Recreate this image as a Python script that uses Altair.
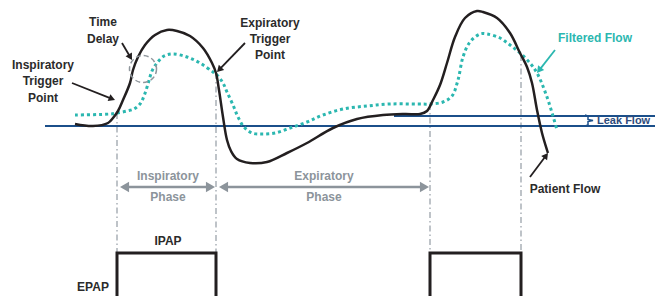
import altair as alt
import numpy as np
import pandas as pd

# ---------------- data (diagram units: x = time, y = flow, screen-oriented) ----------------
patient_t = [75, 93, 108, 113, 118, 123, 130, 133, 138, 145, 155, 167, 177, 190, 203, 212, 216,
             219, 223, 227, 231, 237, 250, 267, 287, 307, 333, 357, 383, 405, 420, 427, 433, 440,
             447, 455, 465, 477, 483, 497, 510, 520, 527, 532, 537, 542, 547, 548]
patient_f = [124, 126, 123, 118, 111, 100, 83, 70, 57, 45, 35, 30, 31, 36, 48, 63, 73,
             90, 117, 140, 151, 159, 163, 162, 153, 143, 128, 119, 115, 114, 114, 111, 100, 85,
             63, 37, 18, 11, 12, 18, 33, 53, 67, 83, 110, 133, 150, 153]

filtered_t = [75, 110, 117, 127, 134, 140, 144, 148, 152, 157, 164, 173, 187, 200, 213, 217, 223,
              227, 233, 238, 244, 252, 262, 275, 290, 307, 323, 343, 367, 390, 417, 430, 443,
              452, 458, 463, 470, 480, 487, 500, 510, 520, 530, 537, 547, 557]
filtered_f = [115, 114, 113, 111, 109, 104, 96, 84, 71, 63, 56, 54, 57, 63, 72, 75, 83,
              92, 105, 117, 127, 133, 134, 133, 128, 122, 115, 109, 106, 104, 104, 104, 102,
              96, 80, 57, 42, 34, 34, 38, 45, 53, 63, 73, 97, 130]

baseline_flow = 126
leak_flow = 116
leak_start = 394
flow_x_start = 45
flow_x_end = 663

trigger_t = [117, 216, 430, 521]
trigger_f = [113, 73, 104, 55]

pressure_t = [117, 117, 216, 216, 430, 430, 521, 521]
pressure_p = [310, 253, 253, 310, 310, 253, 253, 310]
pressure_breath = [1, 1, 1, 1, 2, 2, 2, 2]
ipap_level = 253

# annotation arrows (start -> tip)
black_arrows = [(122, 43, 132, 60), (72, 83, 115, 100), (245, 43, 217, 72), (530, 177, 548, 153)]
teal_arrows = [(555, 50, 537, 73)]
phase_arrows = [(167, 187, 120, 187), (167, 187, 215, 187), (324, 187, 219, 187), (324, 187, 429, 187)]

# labels
dark_labels = ["Time", "Delay", "Inspiratory", "Trigger", "Point", "Expiratory", "Trigger", "Point",
               "Patient Flow", "IPAP", "EPAP"]
dark_x = [103, 103, 43, 43, 43, 270, 270, 270, 565, 168, 93]
dark_y = [22, 39, 65, 81, 98, 23, 39, 55, 189, 241, 287]
gray_labels = ["Inspiratory", "Phase", "Expiratory", "Phase"]
gray_x = [168, 168, 324, 324]
gray_y = [176, 197, 176, 197]

BLACK = "#231f20"
TEAL = "#2bb7b0"
NAVY = "#1b4f8a"
GRAY = "#8c949b"
LGRAY = "#a9b0b7"
FONT = "Liberation Sans"

XS = alt.Scale(domain=[8, 655], nice=False, zero=False)
YS = alt.Scale(domain=[8, 296], nice=False, zero=False, reverse=True)


def X(f="x"):
    return alt.X(f"{f}:Q", scale=XS, axis=None)


def Y(f="y"):
    return alt.Y(f"{f}:Q", scale=YS, axis=None)


def arrow_layers(arrows, color, size, width):
    rows, heads = [], []
    for (x0, y0, x1, y1) in arrows:
        dx, dy = x1 - x0, y1 - y0
        L = np.hypot(dx, dy)
        ux, uy = dx / L, dy / L
        h = 0.433 * np.sqrt(size)
        rows.append(dict(x=x0, y=y0, x2=x1 - ux * h, y2=y1 - uy * h))
        ang = (np.degrees(np.arctan2(dx, -dy)) + 360) % 360
        heads.append(dict(x=x1 - ux * h, y=y1 - uy * h, a=ang))
    r = alt.Chart(pd.DataFrame(rows)).mark_rule(color=color, strokeWidth=width).encode(
        x=X(), y=Y(), x2="x2:Q", y2="y2:Q")
    p = alt.Chart(pd.DataFrame(heads)).mark_point(
        shape="triangle-up", filled=True, color=color, size=size, opacity=1, strokeWidth=0).encode(
        x=X(), y=Y(), angle=alt.Angle("a:Q", scale=None))
    return [r, p]


# vertical dash-dot guides
guides = alt.Chart(pd.DataFrame({"x": trigger_t, "y": trigger_f, "y2": [ipap_level] * 4})).mark_rule(
    color=LGRAY, strokeWidth=1.5, strokeDash=[6, 3, 1.5, 3]).encode(x=X(), y=Y(), y2="y2:Q")

# flow reference lines
ref = alt.Chart(pd.DataFrame({"x": [flow_x_start, leak_start], "x2": [flow_x_end, flow_x_end],
                              "y": [baseline_flow, leak_flow]})).mark_rule(
    color=NAVY, strokeWidth=2, clip=True).encode(x=X(), x2="x2:Q", y=Y())

# leak bracket
brk = alt.Chart(pd.DataFrame({"x": [585, 588, 588, 593, 588, 588, 585],
                              "y": [115, 116, 119.5, 120.5, 121.5, 125, 126],
                              "i": list(range(7))})).mark_line(
    color=NAVY, strokeWidth=1.5).encode(x=X(), y=Y(), order="i:Q")

filtered = alt.Chart(pd.DataFrame({"x": filtered_t, "y": filtered_f, "i": range(len(filtered_t))})).mark_line(
    color=TEAL, strokeWidth=3, strokeDash=[3, 3], interpolate="catmull-rom").encode(
    x=X(), y=Y(), order="i:Q")

patient = alt.Chart(pd.DataFrame({"x": patient_t, "y": patient_f, "i": range(len(patient_t))})).mark_line(
    color=BLACK, strokeWidth=2.5, interpolate="catmull-rom").encode(
    x=X(), y=Y(), order="i:Q")

pressure = alt.Chart(pd.DataFrame({"x": pressure_t, "y": pressure_p, "b": pressure_breath,
                                   "i": range(len(pressure_t))})).mark_line(
    color=BLACK, strokeWidth=3, clip=True, strokeJoin="miter").encode(
    x=X(), y=Y(), detail="b:N", order="i:Q")

circle = alt.Chart(pd.DataFrame({"x": [143], "y": [69]})).mark_point(
    shape="circle", size=730, filled=False, color="#8f969c", strokeWidth=1.5,
    strokeDash=[5, 3], opacity=1).encode(x=X(), y=Y())

dark_txt = alt.Chart(pd.DataFrame({"x": dark_x, "y": dark_y, "t": dark_labels})).mark_text(
    font=FONT, fontSize=12, fontWeight="bold", color="#2b2b2b", align="center", baseline="middle").encode(
    x=X(), y=Y(), text="t:N")

gray_txt = alt.Chart(pd.DataFrame({"x": gray_x, "y": gray_y, "t": gray_labels})).mark_text(
    font=FONT, fontSize=12, fontWeight="bold", color=GRAY, align="center", baseline="middle").encode(
    x=X(), y=Y(), text="t:N")

teal_txt = alt.Chart(pd.DataFrame({"x": [595], "y": [38], "t": ["Filtered Flow"]})).mark_text(
    font=FONT, fontSize=12, fontWeight="bold", color=TEAL, align="center", baseline="middle").encode(
    x=X(), y=Y(), text="t:N")

leak_txt = alt.Chart(pd.DataFrame({"x": [597], "y": [121], "t": ["Leak Flow"]})).mark_text(
    font=FONT, fontSize=11, fontWeight="bold", color="#2f4c7c", align="left", baseline="middle").encode(
    x=X(), y=Y(), text="t:N")

layers = [guides, ref, brk, filtered, patient, pressure, circle]
layers += arrow_layers(black_arrows, BLACK, 55, 1.8)
layers += arrow_layers(teal_arrows, TEAL, 60, 1.8)
layers += arrow_layers(phase_arrows, GRAY, 110, 2.5)
layers += [dark_txt, gray_txt, teal_txt, leak_txt]

chart = alt.layer(*layers).properties(
    width=647, height=288, padding=0, autosize=alt.AutoSizeParams(type="none"),
    background="white"
).configure_view(stroke=None)

chart.save("out.html", embed_options={"renderer": "svg", "actions": False})
